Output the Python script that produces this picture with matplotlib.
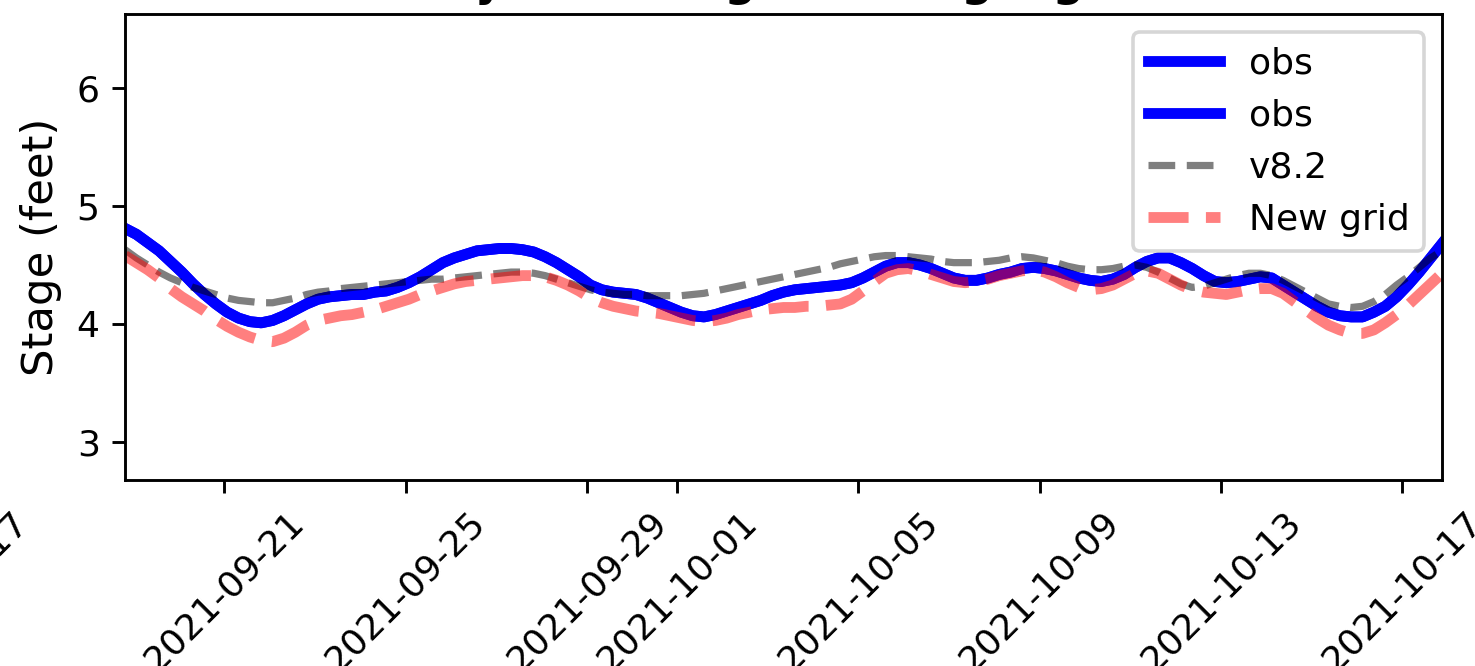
import matplotlib
matplotlib.use("Agg")
import matplotlib.pyplot as plt
import matplotlib.dates as mdates
import pandas as pd

# Model vs. observed stage, six-hourly samples
start_time = "2021-09-18 19:20"
end_time = "2021-10-17 21:15"
n_samples = 117

obs = [4.81, 4.76, 4.69, 4.62, 4.53, 4.44, 4.34, 4.25, 4.17, 4.10,
       4.05, 4.02, 4.01, 4.03, 4.07, 4.12, 4.17, 4.21, 4.23, 4.24,
       4.25, 4.25, 4.27, 4.28, 4.31, 4.35, 4.40, 4.46, 4.52, 4.56,
       4.59, 4.62, 4.63, 4.64, 4.64, 4.63, 4.61, 4.57, 4.52, 4.46,
       4.40, 4.33, 4.29, 4.27, 4.26, 4.25, 4.22, 4.18, 4.14, 4.10,
       4.07, 4.06, 4.08, 4.11, 4.14, 4.17, 4.20, 4.24, 4.27, 4.29,
       4.30, 4.31, 4.32, 4.33, 4.35, 4.39, 4.44, 4.49, 4.52, 4.52,
       4.50, 4.47, 4.43, 4.39, 4.37, 4.37, 4.39, 4.42, 4.44, 4.47,
       4.48, 4.47, 4.45, 4.42, 4.39, 4.37, 4.36, 4.38, 4.42, 4.48,
       4.53, 4.56, 4.56, 4.52, 4.47, 4.41, 4.36, 4.35, 4.36, 4.38,
       4.40, 4.39, 4.33, 4.27, 4.21, 4.15, 4.10, 4.07, 4.06, 4.06,
       4.10, 4.15, 4.23, 4.33, 4.44, 4.56, 4.68]

v82 = [4.63, 4.56, 4.50, 4.44, 4.39, 4.35, 4.31, 4.28, 4.25, 4.22,
       4.20, 4.19, 4.18, 4.18, 4.20, 4.22, 4.25, 4.27, 4.28, 4.30,
       4.31, 4.32, 4.33, 4.34, 4.35, 4.36, 4.37, 4.38, 4.38, 4.39,
       4.40, 4.41, 4.42, 4.43, 4.44, 4.44, 4.43, 4.41, 4.38, 4.35,
       4.32, 4.29, 4.27, 4.26, 4.25, 4.25, 4.24, 4.24, 4.24, 4.24,
       4.25, 4.26, 4.28, 4.30, 4.32, 4.34, 4.36, 4.38, 4.40, 4.42,
       4.44, 4.46, 4.48, 4.51, 4.53, 4.55, 4.57, 4.58, 4.58, 4.57,
       4.56, 4.55, 4.53, 4.52, 4.52, 4.52, 4.53, 4.54, 4.56, 4.57,
       4.56, 4.54, 4.52, 4.49, 4.47, 4.46, 4.46, 4.47, 4.49, 4.50,
       4.48, 4.44, 4.39, 4.34, 4.31, 4.32, 4.35, 4.38, 4.41, 4.43,
       4.43, 4.41, 4.37, 4.32, 4.27, 4.22, 4.17, 4.15, 4.14, 4.15,
       4.19, 4.25, 4.33, 4.40, 4.48, 4.56, 4.62]

new_grid = [4.58, 4.52, 4.46, 4.39, 4.30, 4.23, 4.17, 4.11, 4.04, 3.98,
            3.93, 3.89, 3.86, 3.85, 3.88, 3.93, 3.99, 4.03, 4.05, 4.07,
            4.08, 4.10, 4.12, 4.15, 4.18, 4.21, 4.25, 4.28, 4.31, 4.34,
            4.36, 4.37, 4.38, 4.39, 4.40, 4.41, 4.41, 4.40, 4.37, 4.33,
            4.28, 4.22, 4.18, 4.15, 4.13, 4.11, 4.10, 4.09, 4.07, 4.05,
            4.03, 4.02, 4.03, 4.05, 4.08, 4.10, 4.12, 4.13, 4.14, 4.14,
            4.15, 4.15, 4.16, 4.17, 4.21, 4.28, 4.36, 4.43, 4.46, 4.47,
            4.45, 4.42, 4.39, 4.36, 4.35, 4.36, 4.38, 4.41, 4.43, 4.45,
            4.46, 4.44, 4.40, 4.35, 4.31, 4.29, 4.30, 4.33, 4.38, 4.43,
            4.45, 4.43, 4.38, 4.33, 4.29, 4.27, 4.26, 4.25, 4.27, 4.29,
            4.30, 4.30, 4.26, 4.19, 4.12, 4.05, 3.99, 3.95, 3.92, 3.92,
            3.95, 4.01, 4.08, 4.16, 4.25, 4.34, 4.43]

times = pd.date_range(start_time, end_time, periods=n_samples)

W, H, DPI = 1475, 666, 260
fig = plt.figure(figsize=(W / DPI, H / DPI), dpi=DPI)
ax = fig.add_axes([125 / W, 1 - 480 / H, 1317 / W, 466 / H])

ax.plot(times, obs, color="blue", lw=3, label="obs")
ax.plot(times, obs, color="blue", lw=3, label="obs")
ax.plot(times, v82, "k--", lw=2, alpha=0.5, label="v8.2")
ax.plot(times, new_grid, "r--", lw=3, alpha=0.5, label="New grid")

ax.set_xlim(times[0], times[-1])
ax.set_ylim(2.678, 6.627)
ax.xaxis.set_major_locator(mdates.DayLocator(bymonthday=range(1, 32, 4)))
ax.xaxis.set_major_formatter(mdates.DateFormatter("%Y-%m-%d"))
plt.setp(ax.get_xticklabels(), rotation=45)

ax.set_ylabel("Stage (feet)", fontsize=12)
ax.set_title("Daily river stage at the gauge", fontweight="bold",
             pad=5, x=0.472)
ax.legend(loc="upper right")

# last tick label of the adjoining panel on the left
fig.text(-52 / W, 1 - 505 / H, "2021-10-17", rotation=45,
         ha="center", va="top", fontsize=10)

fig.savefig("out.png", dpi=DPI)
